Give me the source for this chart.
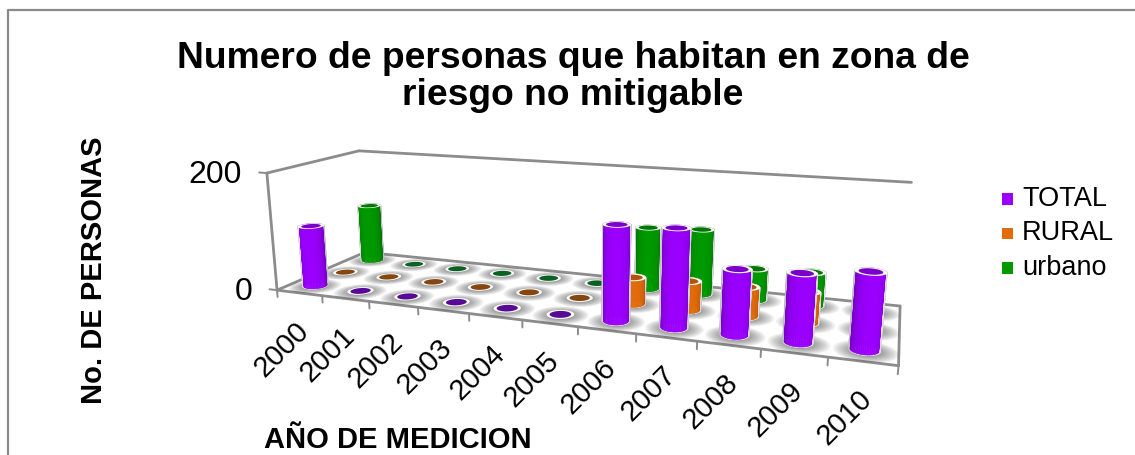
import numpy as np, pandas as pd, seaborn as sns, matplotlib
matplotlib.use("Agg")
import matplotlib.pyplot as plt
from matplotlib.lines import Line2D
from matplotlib.colors import to_rgb
from mpl_toolkits.mplot3d import proj3d
from mpl_toolkits.mplot3d.art3d import Poly3DCollection

years = [2000, 2001, 2002, 2003, 2004, 2005, 2006, 2007, 2008, 2009, 2010]
total = [105, 0, 0, 0, 0, 0, 150, 152, 99, 102, 113]
rural = [0, 0, 0, 0, 0, 0, 44, 47, 47, 49, 0]
urbano = [105, 0, 0, 0, 0, 0, 106, 110, 52, 55, 0]
series_names = ["TOTAL", "RURAL", "urbano"]
title = "Numero de personas que habitan en zona de\nriesgo no mitigable"
xlabel = "AÑO DE MEDICION"
ylabel = "No. DE PERSONAS"
yticks = [0, 200]

W, H = 1135, 455
sns.set_theme(style="white")
plt.rcParams['font.family'] = ['Liberation Sans', 'DejaVu Sans']
palette = dict(zip(series_names, sns.color_palette(["#9B00FF", "#E36C0A", "#009900"])))
disc = dict(zip(series_names, ["#560A96", "#86460F", "#0A6222"]))
GREY = "#8C8C8C"

df = pd.DataFrame({"year": years, "TOTAL": total, "RURAL": rural, "urbano": urbano}).melt(
    id_vars="year", var_name="serie", value_name="n")

fig = plt.figure(figsize=(W / 100, H / 100), dpi=100, facecolor="white")
fig.add_artist(Line2D([8 / W, 8 / W, 1], [0, 1 - 10 / H, 1 - 10 / H], color="#8A8A8A", lw=1.6))

# camera fitted to the reference
ELEV, AZIM, ROLL, FOCAL = 13.98, -70.22, 0.01, 0.2605
BOX = (1, 0.268, 0.202)
S, TX, TY = 3396.5, 579.66, 238.74
L = S * 0.185
ax = fig.add_axes([(TX - S * 0.095) / W, (H - TY - S * 0.095) / H, L / W, L / H], projection="3d")
ax.set_xlim(0, 11); ax.set_ylim(0, 3); ax.set_zlim(0, 200)
ax.view_init(elev=ELEV, azim=AZIM, roll=ROLL)
ax.set_proj_type("persp", focal_length=FOCAL)
ax.set_box_aspect(BOX)
ax.set_axis_off()
ax.patch.set_visible(False)
ax.computed_zorder = False

R = 0.21
RY = R * (BOX[0] / 11) / (BOX[1] / 3)
TH = np.linspace(0, 2 * np.pi, 49)
CAM = np.deg2rad(AZIM)


def ring(x, y, z, k, dx=0, dy=0):
    return np.c_[x + dx + k * R * np.cos(TH), y + dy + k * RY * np.sin(TH), np.full_like(TH, z)]


def flat(x, y, z, k, color, zo, alpha=1.0, dx=0, dy=0):
    p = Poly3DCollection([ring(x, y, z, k, dx, dy)], facecolor=color, edgecolor="none", alpha=alpha, zorder=zo)
    ax.add_collection3d(p)


def body(x, y, v, k, base, zo):
    X = np.array([x + k * R * np.cos(TH)] * 2)
    Y = np.array([y + k * RY * np.sin(TH)] * 2)
    Z = np.array([np.zeros_like(TH), np.full_like(TH, v)])
    mid = (TH[:-1] + TH[1:]) / 2
    t = np.abs(np.cos(mid - CAM)) ** 0.7
    b = np.array(to_rgb(base))
    d = b * 0.75
    col = d[None, :] + (b - d)[None, :] * t[:, None]
    fc = np.c_[col, np.ones(len(mid))][None, :, :]
    ax.plot_surface(X, Y, Z, facecolors=fc, shade=False, rstride=1, cstride=1,
                    linewidth=0.4, antialiased=True, zorder=zo)


# frame
for seg, zo in [(((0, 0, 200), (0, 3, 200)), 0), (((0, 3, 200), (11, 3, 200)), 0),
                (((0, 0, 0), (0, 0, 200)), 0), (((0, 3, 0), (11, 3, 0)), 1), (((0, 0, 0), (0, 3, 0)), 1),
                (((11, 0, 0), (11, 3, 0)), 1), (((0, 0, 0), (11, 0, 0)), 1)]:
    a, b = np.array(seg, float)
    ax.plot(*np.c_[a, b], color=GREY, lw=2, zorder=zo, solid_capstyle="round")
for i in range(len(years) + 1):
    ax.plot([i, i], [0, 0], [0, -12], color=GREY, lw=1.4, zorder=1)
for z in yticks:
    ax.plot([0, -0.17], [0, 0], [z, z], color=GREY, lw=1.4, zorder=1)

# shadows, then cylinders back to front
for row, name in enumerate(series_names):
    vals = df[df.serie == name]["n"].to_numpy()
    y = row + 0.5
    zo = 10 + (2 - row) * 50
    for i, v in enumerate(vals):
        x = i + 0.5
        for k in np.linspace(2.3, 1.1, 10):
            flat(x, y, 0, k, (0.2, 0.2, 0.2), 2, alpha=0.06, dx=0.02, dy=-0.04)
    for i, v in enumerate(vals):
        x = i + 0.5
        z0 = zo + i
        if v == 0:
            flat(x, y, 0, 1.14, "#FFFFFF", z0)
            flat(x, y, 0, 0.88, disc[name], z0)
        else:
            c = palette[name]
            body(x, y, v, 1.12, "#F4EFF8", z0)
            body(x, y, v, 1.0, c, z0)
            flat(x, y, v, 1.12, "#FFFFFF", z0)
            flat(x, y, v, 0.84, tuple(np.array(to_rgb(c)) * 0.78), z0)

for art in ax.get_children():
    art.set_clip_on(False)

M = ax.get_proj()


def p2(x, y, z):
    return proj3d.proj_transform(x, y, z, M)[:2]


for i, yr in enumerate(years):
    ax.annotate(str(yr), xy=p2(i + 0.5, 0, 0), xytext=(3.5, -24), textcoords="offset points", rotation=45,
                rotation_mode="anchor", ha="right", va="center", fontsize=21, color="black", annotation_clip=False)
for z in yticks:
    ax.annotate(str(z), xy=p2(0, 0, z), xytext=(-18, -1.5), textcoords="offset points",
                ha="right", va="center", fontsize=23, color="black", annotation_clip=False)

fig.text(573 / W, 1 - 77 / H, title, ha="center", va="center", fontsize=26.8, fontweight="bold", color="black", linespacing=1.04)
fig.text(398 / W, 1 - 440 / H, xlabel, ha="center", va="center", fontsize=21, fontweight="bold", color="black")
fig.text(94 / W, 1 - 270 / H, ylabel, ha="center", va="center", rotation=90, fontsize=21, fontweight="bold", color="black")

# legend
lax = fig.add_axes([995 / W, 1 - 302.5 / H, 25 / W, 138 / H])
ldf = pd.DataFrame({"serie": series_names, "idx": range(3), "x": [0, 0, 0]})
sns.scatterplot(data=ldf, x="x", y="idx", hue="serie", palette=palette, marker="s", s=65, linewidth=0,
                legend=False, ax=lax, clip_on=False)
lax.set_xlim(-1, 1); lax.set_ylim(3, -1)
lax.set_axis_off()
lax.patch.set_visible(False)
for i, name in enumerate(series_names):
    lax.annotate(name, xy=(0, i), xytext=(10.5, 0), textcoords="offset points", ha="left", va="center",
                 fontsize=19.5, color="black", annotation_clip=False)

fig.savefig("out.png", dpi=100)
